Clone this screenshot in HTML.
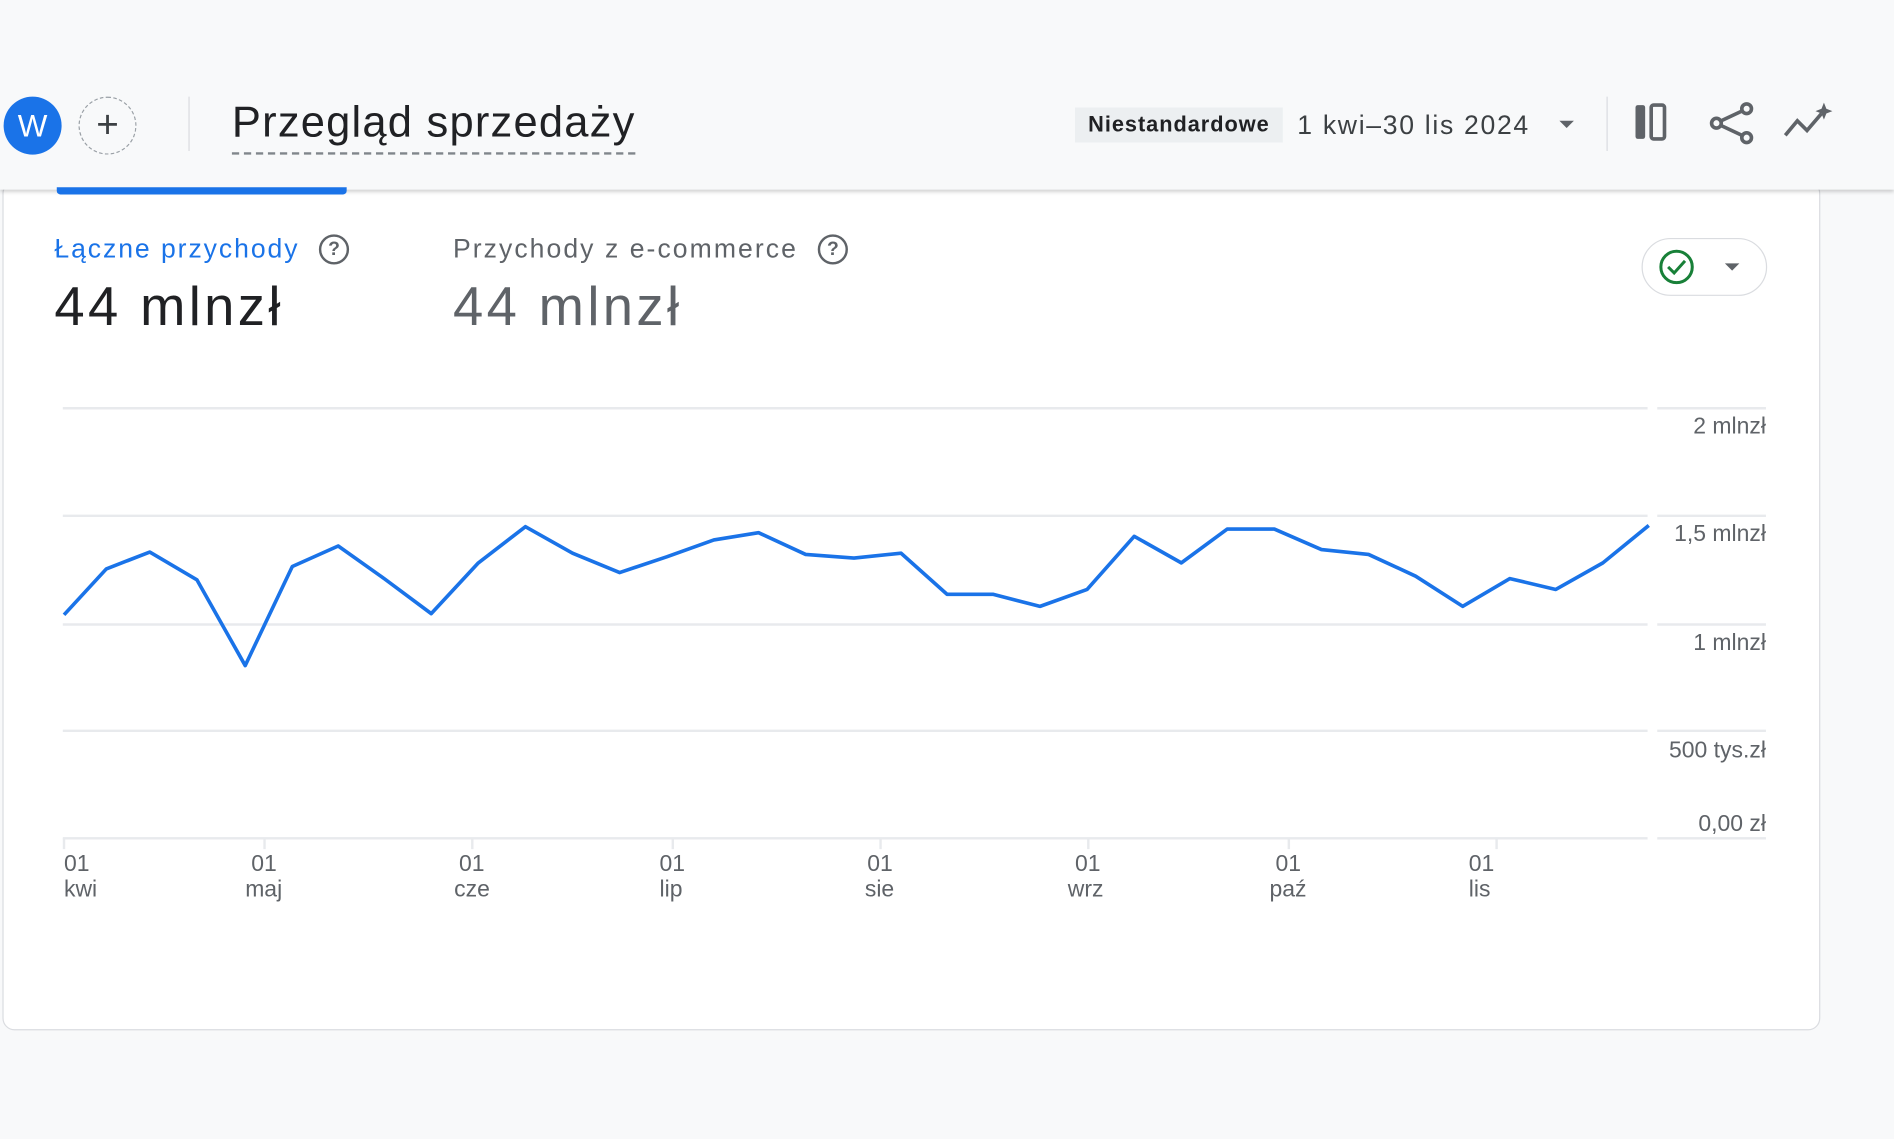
<!DOCTYPE html>
<html><head><meta charset="utf-8"><style>
html,body{margin:0;padding:0;width:1894px;height:1139px;overflow:hidden;background:#f8f9fa;}
#w{position:absolute;left:0;top:0;width:1568px;height:943px;transform:scale(1.2079);transform-origin:0 0;font-family:"Liberation Sans",sans-serif;}
.a{position:absolute;white-space:nowrap;}
</style></head><body><div id="w">
<div class="a" style="left:2px;top:150px;width:1503px;height:701px;background:#fff;border:1px solid #dadce0;border-radius:10px;"></div>
<div class="a" style="left:0;top:0;width:1568px;height:157px;background:#f8f9fa;box-shadow:0 2px 3px rgba(0,0,0,0.18);"></div>
<div class="a" style="left:47px;top:155px;width:240px;height:6px;background:#1a73e8;border-radius:0 0 3px 3px;"></div>
<div class="a" style="left:3px;top:80px;width:48px;height:48px;border-radius:50%;background:#1a73e8;color:#fff;font-size:26px;line-height:48px;text-align:center;">W</div>
<div class="a" style="left:65px;top:80px;width:46px;height:46px;border-radius:50%;border:1px dashed #9aa0a6;color:#3c4043;font-size:32px;line-height:44px;text-align:center;">+</div>
<div class="a" style="left:156px;top:80px;width:1px;height:45px;background:#dadce0;"></div>
<div class="a" style="left:192px;top:80px;font-size:36px;color:#202124;letter-spacing:1px;">Przegląd sprzedaży</div>
<div class="a" style="left:192px;top:126px;width:334px;border-top:2px dashed #80868b;"></div>
<div class="a" style="left:890px;top:89px;width:172px;height:29px;background:#eceff1;font-size:18px;line-height:29px;text-align:center;color:#202124;letter-spacing:0.8px;font-weight:bold;">Niestandardowe</div>
<div class="a" style="left:1074px;top:89px;font-size:22px;line-height:29px;color:#3c4043;letter-spacing:1.4px;">1 kwi–30 lis 2024</div>
<div class="a" style="left:1291px;top:100px;border-left:6px solid transparent;border-right:6px solid transparent;border-top:6px solid #5f6368;"></div>
<div class="a" style="left:1330px;top:80px;width:1px;height:45px;background:#dadce0;"></div>
<svg class="a" style="left:1350px;top:82px" width="180" height="40" viewBox="0 0 180 40">
<rect x="4" y="5" width="8" height="28" rx="2" fill="#5f6368"/><rect x="17" y="5" width="11" height="28" rx="2" fill="none" stroke="#5f6368" stroke-width="3"/>
<g stroke="#5f6368" stroke-width="3" fill="none"><circle cx="96" cy="8" r="4"/><circle cx="71" cy="20" r="4"/><circle cx="96" cy="32" r="4"/><path d="M75 18L92 10M75 22L92 30"/>
<path d="M128 30L138 18L146 26L158 12"/></g>
<path d="M160 3l2 5 5 2-5 2-2 5-2-5-5-2 5-2z" fill="#5f6368"/>
</svg>
<div class="a" style="left:45px;top:193px;font-size:22px;color:#1a73e8;letter-spacing:1.6px;">Łączne przychody</div>
<div class="a" style="left:375px;top:193px;font-size:22px;color:#5f6368;letter-spacing:1.7px;">Przychody z e-commerce</div>
<div class="a" style="left:264px;top:194px;width:21px;height:21px;border:2px solid #5f6368;border-radius:50%;font-size:16px;line-height:21px;text-align:center;color:#5f6368;font-weight:bold;">?</div>
<div class="a" style="left:677px;top:194px;width:21px;height:21px;border:2px solid #5f6368;border-radius:50%;font-size:16px;line-height:21px;text-align:center;color:#5f6368;font-weight:bold;">?</div>
<div class="a" style="left:45px;top:228px;font-size:45px;color:#202124;letter-spacing:2.8px;">44 mlnzł</div>
<div class="a" style="left:375px;top:228px;font-size:45px;color:#5f6368;letter-spacing:2.8px;">44 mlnzł</div>
<div class="a" style="left:1359px;top:197px;width:102px;height:46px;border:1px solid #dadce0;border-radius:24px;"></div>
<svg class="a" style="left:1370px;top:204px" width="80" height="34"><circle cx="18" cy="17" r="13" fill="none" stroke="#188038" stroke-width="2.5"/><path d="M11 17l5 5 9-10" fill="none" stroke="#188038" stroke-width="2.5"/><path d="M58 14h12l-6 6z" fill="#5f6368"/></svg>
<svg class="a" style="left:0;top:0" width="1568" height="943">
<g stroke="#e8eaed" stroke-width="2"><path d="M52 338H1364M1372 338H1462M52 427H1364M1372 427H1462M52 517H1364M1372 517H1462M52 605H1364M1372 605H1462M52 694H1364M1372 694H1462"/>
<path d="M53 694v9M219 694v9M391 694v9M557 694v9M729 694v9M901 694v9M1067 694v9M1239 694v9"/></g>
<g font-family="Liberation Sans,sans-serif" font-size="19" fill="#5f6368" text-anchor="end">
<text x="1462" y="359">2 mlnzł</text><text x="1462" y="448">1,5 mlnzł</text><text x="1462" y="538">1 mlnzł</text><text x="1462" y="627">500 tys.zł</text><text x="1462" y="688">0,00 zł</text></g>
<g font-family="Liberation Sans,sans-serif" font-size="19" fill="#5f6368">
<text x="53" y="721">01</text><text x="53" y="742">kwi</text><text x="208" y="721">01</text><text x="203" y="742">maj</text>
<text x="380" y="721">01</text><text x="376" y="742">cze</text><text x="546" y="721">01</text><text x="546" y="742">lip</text>
<text x="718" y="721">01</text><text x="716" y="742">sie</text><text x="890" y="721">01</text><text x="884" y="742">wrz</text>
<text x="1056" y="721">01</text><text x="1051" y="742">paź</text><text x="1216" y="721">01</text><text x="1216" y="742">lis</text></g>
<polyline fill="none" stroke="#1a73e8" stroke-width="3" stroke-linejoin="round" points="53,509 88,471 124,457 163,480 203,551 242,469 280,452 318,479 357,508 396,466 435,436 474,458 513,474 552,461 591,447 628,441 667,459 707,462 746,458 784,492 822,492 861,502 900,488 939,444 978,466 1016,438 1055,438 1094,455 1133,459 1172,477 1211,502 1250,479 1288,488 1327,466 1365,435"/>
</svg>
</div></body></html>
